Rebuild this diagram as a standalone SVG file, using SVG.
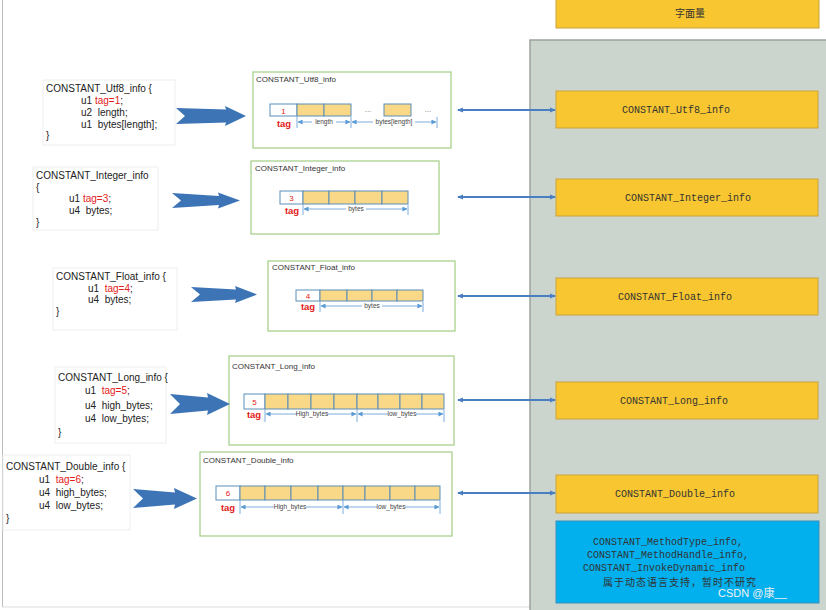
<svg xmlns="http://www.w3.org/2000/svg" width="826" height="610" viewBox="0 0 826 610">
<defs>
<style>
.code{font-family:"Liberation Sans","Noto Sans",sans-serif;font-size:10px;fill:#222}
.red{fill:#E32020}
.cbox{fill:#fff;stroke:#eeeeee;stroke-width:1}
.frame{fill:#fff;stroke:#A9D18E;stroke-width:1.3}
.ftitle{font-family:"Liberation Sans","Noto Sans",sans-serif;font-size:8px;fill:#333}
.tagc{fill:#fff;stroke:#5B8DB8;stroke-width:1}
.cell{fill:#F9D987;stroke:#5B8DB8;stroke-width:1}
.num{font-family:"Liberation Sans",sans-serif;font-size:8px;fill:#E32020;text-anchor:middle}
.tag{font-family:"Liberation Sans",sans-serif;font-size:9.5px;font-weight:bold;fill:#E32020;text-anchor:middle}
.dim{stroke:#5B9BD5;stroke-width:0.8;fill:none}
.dlab{font-family:"Liberation Sans",sans-serif;font-size:6.5px;fill:#444;text-anchor:middle}
.dots{font-family:"Liberation Sans",sans-serif;font-size:8px;fill:#777;text-anchor:middle}
.chev{fill:#3D74B5}
.ybox{fill:#F8C630;stroke:#C9A33A;stroke-width:1}
.ylab{font-family:"Liberation Mono","Noto Sans CJK SC",monospace;font-size:10px;fill:#333;text-anchor:middle}
.conn{stroke:#4A7EC2;stroke-width:2.2;fill:none}
</style>
<marker id="da" viewBox="0 0 6 6" refX="5.5" refY="3" markerWidth="5" markerHeight="5" orient="auto-start-reverse" markerUnits="userSpaceOnUse"><path d="M0,0 L6,3 L0,6 Z" fill="#5B9BD5"/></marker>
<marker id="ca" viewBox="0 0 6 6" refX="5" refY="3" markerWidth="6" markerHeight="6" orient="auto-start-reverse" markerUnits="userSpaceOnUse"><path d="M0,0.5 L6,3 L0,5.5 Z" fill="#4A7EC2"/></marker>
</defs>
<rect x="0" y="0" width="826" height="610" fill="#fff"/>
<line x1="2.5" y1="0" x2="2.5" y2="607" stroke="#bbb" stroke-width="1"/>
<line x1="2" y1="607" x2="530" y2="607" stroke="#ddd" stroke-width="1"/>

<g id="panel">
<rect x="530" y="40" width="300" height="575" fill="#CBD5CE" stroke="#9AA39C" stroke-width="1.5"/>
</g>

<g id="literal">
<rect x="556" y="-2" width="263" height="30" class="ybox"/>
<text x="690" y="17" class="ylab" font-size="11">字面量</text>
</g>

<!-- Row 1 -->
<g id="code-utf8">
<rect x="43" y="80" width="132" height="65" class="cbox"/>
<text class="code" x="46" y="92">CONSTANT_Utf8_info {</text>
<text class="code" x="81" y="104">u1 <tspan class="red">tag=1</tspan>;</text>
<text class="code" x="81" y="116">u2 &#160;length;</text>
<text class="code" x="81" y="128">u1 &#160;bytes[length];</text>
<text class="code" x="46" y="139">}</text>
</g>
<g id="diag-utf8">
<rect x="253" y="72" width="198" height="76" class="frame"/>
<text class="ftitle" x="256" y="82">CONSTANT_Utf8_info</text>
<rect x="270" y="104" width="27" height="12" class="tagc"/>
<text class="num" x="283.5" y="113.5">1</text>
<rect x="297" y="104" width="27" height="12" class="cell"/>
<rect x="324" y="104" width="27" height="12" class="cell"/>
<text class="dots" x="368" y="112">...</text>
<rect x="384" y="104" width="27" height="12" class="cell"/>
<text class="dots" x="428" y="112">...</text>
<text class="tag" x="284" y="127">tag</text>
<path class="dim" d="M297,117 V128 M351,117 V128 M437,117 V128"/>
<line class="dim" x1="298" y1="122" x2="350" y2="122" marker-start="url(#da)" marker-end="url(#da)"/>
<line class="dim" x1="352" y1="122" x2="436" y2="122" marker-start="url(#da)" marker-end="url(#da)"/>
<rect x="312" y="119" width="24" height="6" fill="#fff"/>
<text class="dlab" x="324" y="124">length</text>
<rect x="373" y="119" width="42" height="6" fill="#fff"/>
<text class="dlab" x="394" y="124">bytes[length]</text>
</g>
<g id="box-utf8">
<rect x="556" y="91" width="262" height="37" class="ybox"/>
<text class="ylab" x="676" y="113">CONSTANT_Utf8_info</text>
</g>

<!-- Row 2 -->
<g id="code-integer">
<rect x="33" y="167" width="125" height="63" class="cbox"/>
<text class="code" x="36" y="179">CONSTANT_Integer_info</text>
<text class="code" x="36" y="191">{</text>
<text class="code" x="69" y="202">u1 <tspan class="red">tag=3</tspan>;</text>
<text class="code" x="69" y="214">u4 &#160;bytes;</text>
<text class="code" x="36" y="226">}</text>
</g>
<g id="diag-integer">
<rect x="251" y="161" width="188" height="73" class="frame"/>
<text class="ftitle" x="255" y="171">CONSTANT_Integer_info</text>
<rect x="280" y="191" width="23" height="13" class="tagc"/>
<text class="num" x="291.5" y="200.5">3</text>
<rect x="303" y="191" width="26" height="13" class="cell"/>
<rect x="329" y="191" width="26" height="13" class="cell"/>
<rect x="355" y="191" width="27" height="13" class="cell"/>
<rect x="382" y="191" width="26" height="13" class="cell"/>
<text class="tag" x="292" y="214">tag</text>
<path class="dim" d="M303,205 V215 M408,205 V215"/>
<line class="dim" x1="304" y1="209" x2="407" y2="209" marker-start="url(#da)" marker-end="url(#da)"/>
<rect x="346" y="206" width="20" height="6" fill="#fff"/>
<text class="dlab" x="356" y="211">bytes</text>
</g>
<g id="box-integer">
<rect x="556" y="179" width="262" height="37" class="ybox"/>
<text class="ylab" x="688" y="201">CONSTANT_Integer_info</text>
</g>

<!-- Row 3 -->
<g id="code-float">
<rect x="53" y="268" width="124" height="62" class="cbox"/>
<text class="code" x="56" y="280">CONSTANT_Float_info {</text>
<text class="code" x="88" y="292">u1 &#160;<tspan class="red">tag=4</tspan>;</text>
<text class="code" x="88" y="303">u4 &#160;bytes;</text>
<text class="code" x="56" y="315">}</text>
</g>
<g id="diag-float">
<rect x="268" y="261" width="187" height="70" class="frame"/>
<text class="ftitle" x="272" y="270">CONSTANT_Float_info</text>
<rect x="296" y="290" width="24" height="11" class="tagc"/>
<text class="num" x="308" y="298.5">4</text>
<rect x="320" y="290" width="27" height="11" class="cell"/>
<rect x="347" y="290" width="25" height="11" class="cell"/>
<rect x="372" y="290" width="25" height="11" class="cell"/>
<rect x="397" y="290" width="26" height="11" class="cell"/>
<text class="tag" x="308" y="310">tag</text>
<path class="dim" d="M320,302 V312 M423,302 V312"/>
<line class="dim" x1="321" y1="306" x2="422" y2="306" marker-start="url(#da)" marker-end="url(#da)"/>
<rect x="362" y="303" width="20" height="6" fill="#fff"/>
<text class="dlab" x="372" y="308">bytes</text>
</g>
<g id="box-float">
<rect x="556" y="278" width="262" height="37" class="ybox"/>
<text class="ylab" x="675" y="300">CONSTANT_Float_info</text>
</g>

<!-- Row 4 -->
<g id="code-long">
<rect x="55" y="367" width="111" height="76" class="cbox"/>
<text class="code" x="58" y="381">CONSTANT_Long_info {</text>
<text class="code" x="85" y="394">u1 &#160;<tspan class="red">tag=5</tspan>;</text>
<text class="code" x="85" y="409">u4 &#160;high_bytes;</text>
<text class="code" x="85" y="422">u4 &#160;low_bytes;</text>
<text class="code" x="58" y="436">}</text>
</g>
<g id="diag-long">
<rect x="229" y="356" width="225" height="89" class="frame"/>
<text class="ftitle" x="232" y="369">CONSTANT_Long_info</text>
<rect x="244" y="394" width="21" height="15" class="tagc"/>
<text class="num" x="254.5" y="404.5">5</text>
<rect x="265" y="394" width="23" height="15" class="cell"/>
<rect x="288" y="394" width="23" height="15" class="cell"/>
<rect x="311" y="394" width="23" height="15" class="cell"/>
<rect x="334" y="394" width="23" height="15" class="cell"/>
<rect x="357" y="394" width="21" height="15" class="cell"/>
<rect x="378" y="394" width="22" height="15" class="cell"/>
<rect x="400" y="394" width="22" height="15" class="cell"/>
<rect x="422" y="394" width="22" height="15" class="cell"/>
<text class="tag" x="254" y="418">tag</text>
<path class="dim" d="M265,410 V422 M357,410 V422 M444,410 V422"/>
<line class="dim" x1="266" y1="414" x2="356" y2="414" marker-start="url(#da)" marker-end="url(#da)"/>
<line class="dim" x1="358" y1="414" x2="443" y2="414" marker-start="url(#da)" marker-end="url(#da)"/>
<rect x="297" y="411" width="30" height="6" fill="#fff"/>
<text class="dlab" x="312" y="416">High_bytes</text>
<rect x="388" y="411" width="28" height="6" fill="#fff"/>
<text class="dlab" x="402" y="416">low_bytes</text>
</g>
<g id="box-long">
<rect x="556" y="382" width="262" height="37" class="ybox"/>
<text class="ylab" x="674" y="404">CONSTANT_Long_info</text>
</g>

<!-- Row 5 -->
<g id="code-double">
<rect x="3" y="455" width="127" height="75" class="cbox"/>
<text class="code" x="6" y="470">CONSTANT_Double_info {</text>
<text class="code" x="39" y="483">u1 &#160;<tspan class="red">tag=6</tspan>;</text>
<text class="code" x="39" y="496">u4 &#160;high_bytes;</text>
<text class="code" x="39" y="509">u4 &#160;low_bytes;</text>
<text class="code" x="6" y="522">}</text>
</g>
<g id="diag-double">
<rect x="200" y="452" width="252" height="84" class="frame"/>
<text class="ftitle" x="203" y="463">CONSTANT_Double_info</text>
<rect x="216" y="486" width="24" height="14" class="tagc"/>
<text class="num" x="228" y="496">6</text>
<rect x="240" y="486" width="25" height="14" class="cell"/>
<rect x="265" y="486" width="26" height="14" class="cell"/>
<rect x="291" y="486" width="27" height="14" class="cell"/>
<rect x="318" y="486" width="25" height="14" class="cell"/>
<rect x="343" y="486" width="22" height="14" class="cell"/>
<rect x="365" y="486" width="25" height="14" class="cell"/>
<rect x="390" y="486" width="25" height="14" class="cell"/>
<rect x="415" y="486" width="25" height="14" class="cell"/>
<text class="tag" x="228" y="511">tag</text>
<path class="dim" d="M240,501 V514 M343,501 V514 M440,501 V514"/>
<line class="dim" x1="241" y1="507" x2="342" y2="507" marker-start="url(#da)" marker-end="url(#da)"/>
<line class="dim" x1="344" y1="507" x2="439" y2="507" marker-start="url(#da)" marker-end="url(#da)"/>
<rect x="274" y="504" width="32" height="6" fill="#fff"/>
<text class="dlab" x="290" y="509">High_bytes</text>
<rect x="377" y="504" width="28" height="6" fill="#fff"/>
<text class="dlab" x="391" y="509">low_bytes</text>
</g>
<g id="box-double">
<rect x="556" y="475" width="262" height="38" class="ybox"/>
<text class="ylab" x="675" y="497">CONSTANT_Double_info</text>
</g>

<g id="box-dynamic">
<rect x="556" y="521" width="263" height="82" fill="#02B0EE" stroke="#3A8FB8" stroke-width="1"/>
<text class="ylab" x="668" y="545">CONSTANT_MethodType_info,</text>
<text class="ylab" x="668" y="558">CONSTANT_MethodHandle_info,</text>
<text class="ylab" x="664" y="571">CONSTANT_InvokeDynamic_info</text>
<text class="ylab" x="680" y="586" font-size="11" letter-spacing="1">属于动态语言支持，暂时不研究</text>
</g>
<text x="718" y="597" font-family="'Liberation Sans','Noto Sans CJK SC',sans-serif" font-size="11" fill="#f2f2f2">CSDN @康__</text>

<g id="connectors">
<path class="chev" d="M176,108 L226,109.5 L225,106 L246,116 L225,126 L226,122.5 L176,124 L185,116 Z"/>
<path class="chev" d="M172,193 L219,196 L218,192.5 L240,200.5 L218,208.5 L219,205 L172,208 L181,200.5 Z"/>
<path class="chev" d="M191,287 L236,289.5 L235,286 L257,294.5 L235,303 L236,299.5 L191,302 L200,294.5 Z"/>
<path class="chev" d="M170,394 L208,397.5 L207,393 L230,404 L207,415 L208,410.5 L170,414 L180,404 Z"/>
<path class="chev" d="M133,489 L175,492.5 L174,488 L197,498.5 L174,509 L175,504.5 L133,508 L143,498.5 Z"/>
<line class="conn" x1="458" y1="110" x2="555" y2="110" marker-start="url(#ca)" marker-end="url(#ca)"/>
<line class="conn" x1="458" y1="197" x2="555" y2="197" marker-start="url(#ca)" marker-end="url(#ca)"/>
<line class="conn" x1="458" y1="296" x2="555" y2="296" marker-start="url(#ca)" marker-end="url(#ca)"/>
<line class="conn" x1="458" y1="400" x2="555" y2="400" marker-start="url(#ca)" marker-end="url(#ca)"/>
<line class="conn" x1="458" y1="493" x2="555" y2="493" marker-start="url(#ca)" marker-end="url(#ca)"/>
</g>
</svg>
